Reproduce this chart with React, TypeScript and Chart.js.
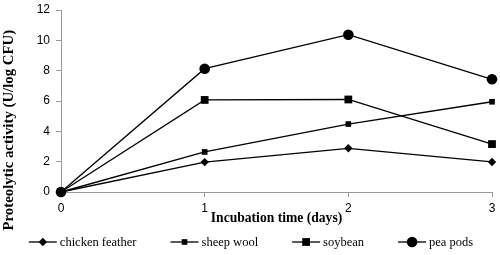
import React, { useEffect, useRef } from 'react';
import { Chart, registerables } from 'chart.js';

Chart.register(...registerables);

const days = [0, 1, 2, 3];
const chickenFeather = [0, 1.97, 2.88, 1.98];
const sheepWool = [0, 2.64, 4.48, 5.95];
const soybean = [0, 6.07, 6.1, 3.16];
const peaPods = [0, 8.13, 10.37, 7.43];
const seriesLabels = ['chicken feather', 'sheep wool', 'soybean', 'pea pods'];
const xTitle = 'Incubation time (days)';
const yTitle = 'Proteolytic activity (U/log CFU)';

const SERIF = '"Liberation Serif", "Times New Roman", serif';
const SANS = '"Liberation Sans", Arial, sans-serif';

function drawMarker(ctx: CanvasRenderingContext2D, style: string, r: number, x: number, y: number) {
  ctx.beginPath();
  if (style === 'rectRot') {
    ctx.moveTo(x, y - r);
    ctx.lineTo(x + r, y);
    ctx.lineTo(x, y + r);
    ctx.lineTo(x - r, y);
    ctx.closePath();
  } else if (style === 'rect') {
    const s = r * Math.SQRT1_2;
    ctx.rect(x - s, y - s, 2 * s, 2 * s);
  } else {
    ctx.arc(x, y, r, 0, Math.PI * 2);
  }
  ctx.fill();
}

const lineLegend = {
  id: 'lineLegend',
  afterDraw(chart: any) {
    const ctx: CanvasRenderingContext2D = chart.ctx;
    ctx.save();
    ctx.font = '12.5px ' + SERIF;
    const lineLen = 28;
    const gapText = 3;
    const gapItem = 34;
    const items = chart.data.datasets.map((ds: any) => ({ ds, w: ctx.measureText(ds.label).width }));
    const total =
      items.reduce((s: number, it: any) => s + lineLen + gapText + it.w, 0) + gapItem * (items.length - 1);
    let x = chart.width / 2 - total / 2 + 1;
    const y = chart.chartArea.bottom + 50;
    ctx.textBaseline = 'middle';
    ctx.textAlign = 'left';
    for (const it of items) {
      ctx.strokeStyle = '#000';
      ctx.fillStyle = '#000';
      ctx.lineWidth = 1.3;
      ctx.beginPath();
      ctx.moveTo(x, y);
      ctx.lineTo(x + lineLen, y);
      ctx.stroke();
      drawMarker(ctx, it.ds.pointStyle, it.ds.pointRadius, x + lineLen / 2, y);
      ctx.fillText(it.ds.label, x + lineLen + gapText, y + 0.5);
      x += lineLen + gapText + it.w + gapItem;
    }
    ctx.restore();
  },
};

const yAxisTitle = {
  id: 'yAxisTitle',
  afterDraw(chart: any) {
    const ctx: CanvasRenderingContext2D = chart.ctx;
    ctx.save();
    ctx.font = 'bold 14.8px ' + SERIF;
    ctx.fillStyle = '#000';
    ctx.textAlign = 'left';
    ctx.textBaseline = 'middle';
    ctx.translate(9.5, chart.chartArea.bottom + 38.5);
    ctx.rotate(-Math.PI / 2);
    ctx.fillText(yTitle, 0, 0);
    ctx.restore();
  },
};

const toPoints = (vals: number[]) => days.map((d, i) => ({ x: d, y: vals[i] }));

export default function App() {
  const ref = useRef<HTMLCanvasElement | null>(null);
  useEffect(() => {
    document.body.style.margin = '0';
    const canvas = ref.current;
    if (!canvas) return;
    const common = {
      borderColor: '#000',
      backgroundColor: '#000',
      borderWidth: 1.3,
      pointBackgroundColor: '#000',
      pointBorderColor: '#000',
      pointBorderWidth: 0,
      tension: 0,
      clip: false as any,
    };
    const chart = new Chart(canvas, {
      type: 'line',
      data: {
        datasets: [
          { ...common, label: seriesLabels[0], data: toPoints(chickenFeather), pointStyle: 'rectRot', pointRadius: 4.2 },
          { ...common, label: seriesLabels[1], data: toPoints(sheepWool), pointStyle: 'rect', pointRadius: 4 },
          { ...common, label: seriesLabels[2], data: toPoints(soybean), pointStyle: 'rect', pointRadius: 5.5 },
          { ...common, label: seriesLabels[3], data: toPoints(peaPods), pointStyle: 'circle', pointRadius: 5.3 },
        ],
      },
      options: {
        responsive: false,
        animation: false,
        devicePixelRatio: 1,
        layout: { padding: { left: 0, right: 8, top: 10, bottom: 25 } },
        plugins: {
          legend: { display: false },
          tooltip: { enabled: false },
        },
        scales: {
          x: {
            type: 'linear',
            min: 0,
            max: 3,
            ticks: { stepSize: 1, color: '#000', font: { family: SANS, size: 12 }, padding: 4, maxRotation: 0 },
            grid: { drawOnChartArea: false, drawTicks: true, tickLength: 5, color: '#999' },
            border: { color: '#999', width: 1 },
            title: {
              display: true,
              text: xTitle,
              color: '#000',
              font: { family: SERIF, size: 13.6, weight: 'bold' },
              padding: { top: 0, bottom: 3.5 },
            },
            afterFit: (s: any) => {
              s.height = 38;
              s.paddingLeft = 0;
              s.paddingRight = 0;
            },
          },
          y: {
            min: 0,
            max: 12,
            ticks: { stepSize: 2, color: '#000', font: { family: SANS, size: 12 }, padding: 6 },
            grid: { drawOnChartArea: false, drawTicks: true, tickLength: 5, color: '#999' },
            border: { color: '#999', width: 1 },
            title: { display: false },
            afterFit: (s: any) => {
              s.width = 61;
              s.paddingTop = 0;
              s.paddingBottom = 0;
            },
          },
        },
      },
      plugins: [lineLegend, yAxisTitle],
    } as any);
    return () => chart.destroy();
  }, []);
  return (
    <div style={{ width: 500, height: 255, position: 'relative' }}>
      <canvas ref={ref} width={500} height={255} />
    </div>
  );
}
